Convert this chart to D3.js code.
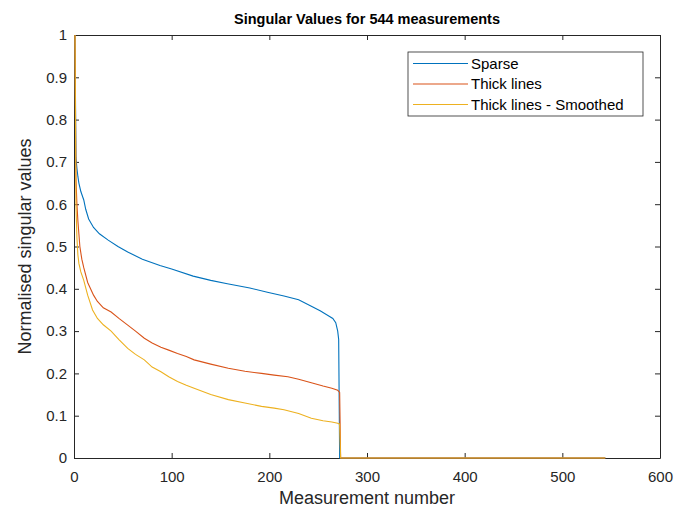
<!DOCTYPE html>
<html lang="en">
<head>
    <meta charset="UTF-8">
    <title>Singular Values</title>
    <script src="https://d3js.org/d3.v7.min.js"></script>
    <style>
        body { margin: 0; background: #fff; }
        text { font-family: "Liberation Sans", Arial, Helvetica, sans-serif; }
        .tick text { fill: #262626; font-size: 15px; }
        .tick line, .domain { stroke: #262626; }
    </style>
</head>
<body>
<div id="chart"></div>
<script>
    var sparseX = [1, 2, 3, 4, 5, 7, 10, 12, 15, 20, 26, 35, 45, 55, 70, 88, 100, 122, 140, 157, 180, 198, 215, 230, 242, 252, 260, 265, 268, 270, 271, 272, 273, 544];
    var sparseY = [1, 0.71, 0.685, 0.665, 0.65, 0.63, 0.61, 0.588, 0.565, 0.545, 0.53, 0.515, 0.5, 0.487, 0.47, 0.455, 0.447, 0.43, 0.42, 0.412, 0.402, 0.392, 0.383, 0.374, 0.36, 0.348, 0.337, 0.33, 0.32, 0.3, 0.28, 0, 0, 0];

    var thickX = [1, 2, 3, 4, 5, 6, 8, 10, 14, 20, 24, 30, 38, 46, 55, 63, 72, 80, 89, 97, 106, 115, 123, 140, 158, 175, 192, 205, 219, 230, 243, 255, 264, 270, 272, 273, 544];
    var thickY = [1, 0.66, 0.6, 0.56, 0.53, 0.5, 0.47, 0.45, 0.415, 0.385, 0.37, 0.355, 0.345, 0.33, 0.314, 0.3, 0.283, 0.272, 0.262, 0.255, 0.247, 0.24, 0.232, 0.222, 0.212, 0.205, 0.2, 0.196, 0.192, 0.186, 0.178, 0.17, 0.165, 0.16, 0.155, 0, 0];

    var smoothX = [1, 2, 3, 4, 5, 7, 10, 14, 19, 24, 30, 38, 46, 55, 63, 72, 80, 89, 97, 106, 115, 123, 140, 158, 175, 192, 205, 215, 230, 243, 255, 264, 270, 272, 273, 544];
    var smoothY = [1, 0.6, 0.52, 0.48, 0.46, 0.44, 0.42, 0.385, 0.35, 0.33, 0.315, 0.3, 0.28, 0.259, 0.245, 0.232, 0.215, 0.204, 0.192, 0.181, 0.172, 0.165, 0.15, 0.138, 0.13, 0.122, 0.118, 0.114, 0.105, 0.094, 0.088, 0.085, 0.082, 0.08, 0, 0];

    var seriesNames = ["Sparse", "Thick lines", "Thick lines - Smoothed"];
    var seriesColors = ["#0072BD", "#D95319", "#EDB120"];
    var xTicks = [0, 100, 200, 300, 400, 500, 600];
    var yTicks = [0, 0.1, 0.2, 0.3, 0.4, 0.5, 0.6, 0.7, 0.8, 0.9, 1];

    var margin = {top: 35, right: 16, bottom: 55, left: 74},
        width = 676 - margin.left - margin.right,
        height = 513 - margin.top - margin.bottom;

    var svgRoot = d3.select("#chart")
        .append("svg")
        .attr("width", 676)
        .attr("height", 513);

    var svg = svgRoot.append("g")
        .attr("transform", "translate(" + margin.left + "," + margin.top + ")");

    var x = d3.scaleLinear().domain([0, 600]).range([0, width]);
    var y = d3.scaleLinear().domain([0, 1]).range([height, 0]);

    // axes, ticks point inwards like matlab
    svg.append("g")
        .attr("transform", "translate(0," + height + ")")
        .call(d3.axisBottom(x).tickValues(xTicks).tickSizeInner(-5).tickSizeOuter(0).tickPadding(13));
    svg.append("g")
        .call(d3.axisLeft(y).tickValues(yTicks).tickFormat(d3.format("~g")).tickSizeInner(-5).tickSizeOuter(0).tickPadding(7));
    svg.append("g")
        .call(d3.axisTop(x).tickValues(xTicks).tickSizeInner(-5).tickSizeOuter(0).tickFormat(""));
    svg.append("g")
        .attr("transform", "translate(" + width + ",0)")
        .call(d3.axisRight(y).tickValues(yTicks).tickSizeInner(-5).tickSizeOuter(0).tickFormat(""));

    var line = d3.line()
        .x(function (d) { return x(d[0]); })
        .y(function (d) { return y(d[1]); });

    var allSeries = [
        d3.zip(sparseX, sparseY),
        d3.zip(thickX, thickY),
        d3.zip(smoothX, smoothY)
    ];

    allSeries.forEach(function (pts, i) {
        svg.append("path")
            .datum(pts)
            .attr("fill", "none")
            .attr("stroke", seriesColors[i])
            .attr("stroke-width", 1.1)
            .attr("d", line);
    });

    // title and axis labels
    svgRoot.append("text")
        .attr("x", margin.left + width / 2)
        .attr("y", 24)
        .attr("text-anchor", "middle")
        .style("font-weight", "bold")
        .style("font-size", "14.5px")
        .attr("fill", "#000")
        .text("Singular Values for 544 measurements");

    svgRoot.append("text")
        .attr("x", margin.left + width / 2)
        .attr("y", 504)
        .attr("text-anchor", "middle")
        .style("font-size", "18px")
        .attr("fill", "#262626")
        .text("Measurement number");

    svgRoot.append("text")
        .attr("transform", "rotate(-90)")
        .attr("x", -(margin.top + height / 2))
        .attr("y", 31)
        .attr("text-anchor", "middle")
        .style("font-size", "18px")
        .attr("fill", "#262626")
        .text("Normalised singular values");

    // legend
    var legend = svgRoot.append("g").attr("transform", "translate(408,52)");
    legend.append("rect")
        .attr("width", 235)
        .attr("height", 64)
        .attr("fill", "#fff")
        .attr("stroke", "#262626")
        .attr("stroke-width", 0.8);

    seriesNames.forEach(function (name, i) {
        var ly = 11.5 + i * 20.5;
        legend.append("line")
            .attr("x1", 5).attr("x2", 60)
            .attr("y1", ly).attr("y2", ly)
            .attr("stroke", seriesColors[i])
            .attr("stroke-width", 1.1);
        legend.append("text")
            .attr("x", 63)
            .attr("y", ly + 5)
            .style("font-size", "15px")
            .attr("fill", "#000")
            .text(name);
    });
</script>
</body>
</html>
